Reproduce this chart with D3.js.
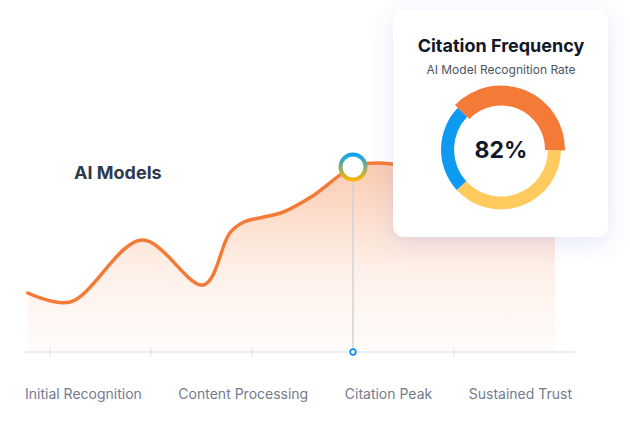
<!DOCTYPE html>
<html>
<head>
<meta charset="utf-8">
<script src="https://cdn.jsdelivr.net/npm/d3@7"></script>
<style>
  html, body { margin: 0; padding: 0; background: #fff; }
  svg { display: block; font-family: Inter, "Noto Sans", sans-serif; }
</style>
</head>
<body>
<svg id="chart" width="630" height="441"></svg>
<script>
// stage positions along the curve (tick units) and the curve height (0-100)
var curveX = [-0.22, 0.2, 0.91, 1.52, 1.78, 1.92, 2.1, 2.31, 2.6, 3.0, 3.25, 4.1, 5.0];
var curveY = [29.5, 25, 56, 33.5, 59.5, 65, 67.25, 70, 78, 92.5, 94.5, 88, 78];
var tickValues = [0, 1, 2, 3, 4];
var peakIndex = 9; // point that carries the marker
var categories = ['Initial Recognition', 'Content Processing', 'Citation Peak', 'Sustained Trust'];

// donut
var donutNames = ['Recognition', 'Processing', 'Other'];
var donutValues = [38, 38, 24];
var donutColors = ['#f47b37', '#ffca5e', '#0f9af2'];
var donutLabel = '82%';

var svg = d3.select('#chart');
var defs = svg.append('defs');

var x = d3.scaleLinear().domain([0, 4]).range([50, 454]);
var y = d3.scaleLinear().domain([0, 100]).range([352, 152]);

var data = curveX.map(function(d, i) { return {x: d, y: curveY[i]}; });

// area gradient
var ag = defs.append('linearGradient')
  .attr('id', 'areaGrad')
  .attr('gradientUnits', 'userSpaceOnUse')
  .attr('x1', 0).attr('x2', 0).attr('y1', y(95)).attr('y2', y(0));
ag.append('stop').attr('offset', '0%').attr('stop-color', '#f47b37').attr('stop-opacity', 0.4);
ag.append('stop').attr('offset', '55%').attr('stop-color', '#f47b37').attr('stop-opacity', 0.12);
ag.append('stop').attr('offset', '100%').attr('stop-color', '#f47b37').attr('stop-opacity', 0.02);

// ring gradient for the marker
var rg = defs.append('linearGradient')
  .attr('id', 'ringGrad')
  .attr('x1', 0).attr('x2', 0).attr('y1', 0).attr('y2', 1);
rg.append('stop').attr('offset', '0%').attr('stop-color', '#0ea2f7');
rg.append('stop').attr('offset', '100%').attr('stop-color', '#fbb400');

// card shadow
var f = defs.append('filter').attr('id', 'cardShadow')
  .attr('x', '-30%').attr('y', '-30%').attr('width', '160%').attr('height', '160%');
f.append('feDropShadow')
  .attr('dx', 0).attr('dy', 6).attr('stdDeviation', 11)
  .attr('flood-color', '#5b63e6').attr('flood-opacity', 0.16);

var curve = d3.curveCatmullRom.alpha(0.5);

var area = d3.area()
  .x(function(d) { return x(d.x); })
  .y0(y(0))
  .y1(function(d) { return y(d.y); })
  .curve(curve);

var line = d3.line()
  .x(function(d) { return x(d.x); })
  .y(function(d) { return y(d.y); })
  .curve(curve);

svg.append('path')
  .datum(data)
  .attr('d', area)
  .attr('fill', 'url(#areaGrad)');

// axis line + ticks
svg.append('line')
  .attr('x1', x(-0.26)).attr('x2', x(5.2))
  .attr('y1', y(0)).attr('y2', y(0))
  .attr('stroke', '#eceef2').attr('stroke-width', 2);

svg.selectAll('.tick')
  .data(tickValues)
  .enter()
  .append('line')
  .attr('class', 'tick')
  .attr('x1', function(d) { return x(d); })
  .attr('x2', function(d) { return x(d); })
  .attr('y1', y(0) - 4.5).attr('y2', y(0) + 4.5)
  .attr('stroke', '#dcdfe4').attr('stroke-width', 1);

svg.append('path')
  .datum(data)
  .attr('d', line)
  .attr('fill', 'none')
  .attr('stroke', '#f47b37')
  .attr('stroke-width', 3.5)
  .attr('stroke-linecap', 'round');

// marker at the peak
var peak = data[peakIndex];
svg.append('line')
  .attr('x1', x(peak.x)).attr('x2', x(peak.x))
  .attr('y1', y(peak.y)).attr('y2', y(0))
  .attr('stroke', '#cfd3da').attr('stroke-width', 1.5);

svg.append('circle')
  .attr('cx', x(peak.x)).attr('cy', y(0)).attr('r', 2.8)
  .attr('fill', '#fff').attr('stroke', '#1290f5').attr('stroke-width', 1.8);

svg.append('circle')
  .attr('cx', x(peak.x)).attr('cy', y(peak.y)).attr('r', 12.5)
  .attr('fill', '#fff').attr('stroke', 'url(#ringGrad)').attr('stroke-width', 4);

svg.append('text')
  .attr('x', 74).attr('y', 179)
  .attr('font-size', 18).attr('font-weight', 700)
  .attr('fill', '#2d3a4f')
  .text('AI Models');

// category labels, spread edge to edge
var labels = svg.selectAll('.cat')
  .data(categories)
  .enter()
  .append('text')
  .attr('class', 'cat')
  .attr('y', 399)
  .attr('font-size', 14)
  .attr('fill', '#737b8f')
  .text(function(d) { return d; });

var widths = [];
labels.each(function() { widths.push(this.getComputedTextLength()); });
var left = 25, right = 572;
var gap = (right - left - d3.sum(widths)) / (categories.length - 1);
var pos = left;
labels.attr('x', function(d, i) {
  var p = pos;
  pos += widths[i] + gap;
  return p;
});

// card
var card = svg.append('g');
card.append('rect')
  .attr('x', 393).attr('y', 10)
  .attr('width', 215).attr('height', 227)
  .attr('rx', 11)
  .attr('fill', '#fff')
  .attr('filter', 'url(#cardShadow)');

card.append('text')
  .attr('x', 501).attr('y', 52)
  .attr('text-anchor', 'middle')
  .attr('font-size', 18).attr('font-weight', 700)
  .attr('fill', '#111827')
  .text('Citation Frequency');

card.append('text')
  .attr('x', 501).attr('y', 74)
  .attr('text-anchor', 'middle')
  .attr('font-size', 12)
  .attr('fill', '#4b5563')
  .text('AI Model Recognition Rate');

var pie = d3.pie().sort(null)
  .startAngle(-46 * Math.PI / 180)
  .endAngle(314 * Math.PI / 180);

var arcs = pie(donutValues);
var ring = card.append('g').attr('transform', 'translate(501,149.5)');

ring.selectAll('path')
  .data(arcs)
  .enter()
  .append('path')
  .attr('d', function(d, i) {
    var a = i === 0 ? d3.arc().innerRadius(44).outerRadius(64) : d3.arc().innerRadius(47).outerRadius(60);
    return a(d);
  })
  .attr('fill', function(d, i) { return donutColors[i]; });

// keep the orange segment drawn above the others
ring.selectAll('path').filter(function(d, i) { return i === 0; }).raise();

ring.append('text')
  .attr('y', 8.5)
  .attr('text-anchor', 'middle')
  .attr('font-size', 23).attr('font-weight', 700)
  .attr('fill', '#111827')
  .text(donutLabel);
</script>
</body>
</html>
